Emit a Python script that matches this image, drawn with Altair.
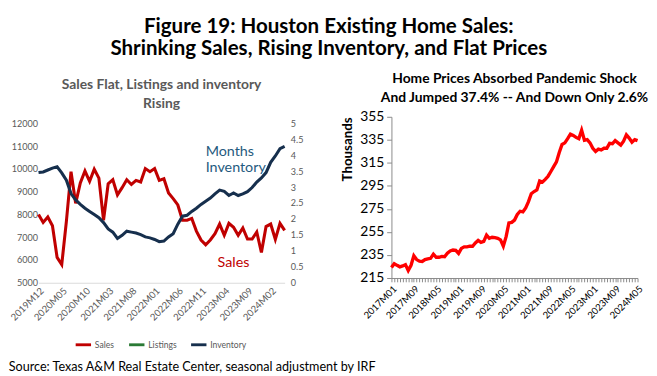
import altair as alt
import pandas as pd


def month_labels(y0, m0, n):
    out = []
    y, m = y0, m0
    for _ in range(n):
        out.append(f"{y}M{m:02d}")
        m += 1
        if m > 12:
            m = 1
            y += 1
    return out


# ---------------- data ----------------
left_months = month_labels(2019, 12, 54)
left_ticks = ["2019M12", "2020M05", "2020M10", "2021M03", "2021M08", "2022M01",
              "2022M06", "2022M11", "2023M04", "2023M09", "2024M02"]

sales = [8000, 7650, 7890, 7510, 6115, 5800, 7700, 9880, 8490, 9390,
         9910, 9460, 9990, 9600, 7750, 9350, 9530, 8860, 9180, 9530,
         9320, 9500, 9430, 10020, 9880, 10020, 9500, 9570, 8950, 8700,
         8420, 7750, 7750, 7830, 7270, 6880, 6670, 6880, 7160, 7580,
         7090, 7610, 7440, 7090, 7410, 6920, 6920, 7230, 6330, 7470,
         7580, 6910, 7610, 7300]

inventory = [3.46, 3.48, 3.54, 3.60, 3.64, 3.45, 3.22, 2.80, 2.60, 2.46,
             2.34, 2.24, 2.14, 2.04, 1.89, 1.69, 1.59, 1.39, 1.49, 1.62,
             1.59, 1.56, 1.51, 1.44, 1.41, 1.36, 1.29, 1.31, 1.44, 1.54,
             1.84, 2.09, 2.12, 2.24, 2.34, 2.46, 2.56, 2.66, 2.79, 2.91,
             2.87, 2.74, 2.82, 2.74, 2.79, 2.86, 2.99, 3.16, 3.29, 3.46,
             3.78, 3.98, 4.21, 4.28]

right_months = month_labels(2017, 1, 89)
right_ticks = ["2017M01", "2017M09", "2018M05", "2019M01", "2019M09", "2020M05",
               "2021M01", "2021M09", "2022M05", "2023M01", "2023M09", "2024M05"]

prices = [224.1, 227.4, 226.0, 224.7, 225.5, 226.6, 221.5, 226.0, 234.3, 231.0,
          229.6, 229.4, 231.0, 231.6, 232.1, 235.7, 233.0, 233.0, 233.8, 233.5,
          236.5, 238.5, 239.3, 239.0, 236.3, 240.7, 242.1, 242.1, 242.6, 242.6,
          245.4, 247.6, 245.9, 246.8, 252.3, 249.5, 250.4, 250.1, 249.5, 248.1,
          242.6, 250.9, 262.8, 263.3, 265.3, 270.2, 273.0, 272.5, 275.8, 281.3,
          288.2, 290.1, 291.5, 299.3, 298.4, 300.6, 303.4, 307.5, 311.7, 315.8,
          324.0, 331.0, 332.4, 336.0, 339.9, 338.8, 337.1, 336.0, 343.4, 334.6,
          335.2, 332.4, 327.7, 324.9, 326.9, 326.3, 327.7, 327.7, 331.9, 331.6,
          334.3, 332.4, 330.5, 333.8, 339.3, 336.5, 332.9, 335.2, 334.3]

series_names = ["Sales", "Listings", "Inventory"]
series_colors = ["#C00000", "#2A7A35", "#162F4D"]

inv_note = ["Months", "Inventory"]
inv_note_month = ["2022M12", "2022M12"]
inv_note_value = [4.13, 3.63]
sales_note = ["Sales"]
sales_note_month = ["2023M06"]
sales_note_value = [5890]

FONT = "Lato"

# ---------------- left chart ----------------
df_sales = pd.DataFrame({"month": left_months, "value": sales, "series": "Sales"})
df_inv = pd.DataFrame({"month": left_months, "value": inventory, "series": "Inventory"})
df_inv_note = pd.DataFrame({"month": inv_note_month, "value": inv_note_value, "text": inv_note})
df_sales_note = pd.DataFrame({"month": sales_note_month, "value": sales_note_value, "text": sales_note})

x_left = alt.X(
    "month:O",
    scale=alt.Scale(type="point", padding=0, domain=left_months),
    axis=alt.Axis(values=left_ticks, labelAngle=-45, title=None, ticks=False,
                  domainColor="#D9D9D9", labelColor="#595959", labelFontSize=10,
                  labelPadding=3, labelOverlap=False),
)
y_sales = alt.Y("value:Q", scale=alt.Scale(domain=[5000, 12293], nice=False),
                axis=alt.Axis(values=list(range(5000, 12001, 1000)), title=None, domain=False,
                              ticks=False, grid=False, labelColor="#595959", labelFontSize=9.5,
                              format="d", labelPadding=1))
y_inv = alt.Y("value:Q", scale=alt.Scale(domain=[0, 5.21], nice=False),
              axis=alt.Axis(orient="right", values=[i / 2 for i in range(11)], title=None,
                            domain=False, ticks=False, grid=False, labelColor="#595959",
                            labelFontSize=9.5, format="~g", labelPadding=6))
color_enc = alt.Color(
    "series:N",
    scale=alt.Scale(domain=series_names, range=series_colors),
    legend=alt.Legend(orient="none", legendX=37, legendY=229, direction="horizontal",
                      title=None, symbolType="stroke", symbolStrokeWidth=3,
                      symbolSize=260, labelFontSize=9, labelColor="#595959",
                      columnPadding=8, labelOffset=2),
)

sales_line = alt.Chart(df_sales).mark_line(strokeWidth=3.2).encode(
    x=x_left, y=y_sales, color=color_enc,
)
sales_txt = alt.Chart(df_sales_note).mark_text(fontSize=15, color="#C00000", align="center").encode(
    x=x_left, y=y_sales, text="text:N",
)
inv_line = alt.Chart(df_inv).mark_line(strokeWidth=3.2).encode(
    x=x_left, y=y_inv, color=color_enc,
)
inv_txt = alt.Chart(df_inv_note).mark_text(fontSize=15, color="#1F5A7E", align="left").encode(
    x=x_left, y=y_inv, text="text:N",
)

left = alt.layer(
    alt.layer(sales_line, sales_txt),
    alt.layer(inv_line, inv_txt),
).resolve_scale(y="independent").properties(
    width=258, height=174,
    title=alt.TitleParams(["Sales Flat, Listings and inventory", "Rising"], fontSize=14.5,
                          color="#595959", fontWeight="bold", anchor="middle", offset=6,
                          lineHeight=20),
)

# ---------------- right chart ----------------
df_p = pd.DataFrame({"month": right_months, "price": prices})
tick_list = ",".join(f"'{t}'" for t in right_ticks)

right = alt.Chart(df_p).mark_line(color="#FF0000", strokeWidth=3.5).encode(
    x=alt.X("month:O",
            scale=alt.Scale(type="point", padding=0, domain=right_months),
            axis=alt.Axis(values=right_months, labelAngle=-45, title=None,
                          labelExpr=f"indexof([{tick_list}], datum.value) >= 0 ? datum.value : ''",
                          labelOverlap=False, tickSize=4, tickColor="#868686",
                          domainColor="#868686", labelColor="#000000", labelFontSize=10,
                          labelPadding=2)),
    y=alt.Y("price:Q", scale=alt.Scale(domain=[215, 355], nice=False),
            axis=alt.Axis(values=list(range(215, 356, 20)), title="Thousands",
                          titleFontSize=14, titleFontWeight="bold", titleColor="#000000",
                          titleAnchor="end",
                          grid=False, tickSize=5, tickColor="#868686", domainColor="#868686",
                          labelColor="#000000", labelFontSize=14.5, labelPadding=3,
                          titlePadding=6)),
).properties(
    width=258, height=169,
    title=alt.TitleParams(["Home Prices Absorbed Pandemic Shock",
                           "And Jumped 37.4% -- And Down Only 2.6%"], fontSize=14.5,
                          color="#000000", fontWeight="bold", anchor="middle", offset=3.5,
                          lineHeight=20),
)

inner = alt.hconcat(left, right, spacing=38).properties(
    title=alt.TitleParams(["Figure 19: Houston Existing Home Sales:",
                           "Shrinking Sales, Rising Inventory, and Flat Prices"],
                          fontSize=21.5, fontWeight="bold", color="#000000", anchor="middle",
                          lineHeight=23, offset=13.5),
)

chart = alt.vconcat(inner).properties(
    title=alt.TitleParams("Source: Texas A&M Real Estate Center, seasonal adjustment by IRF",
                          orient="bottom", anchor="start", fontSize=13.2, fontWeight="normal",
                          color="#000000", offset=12),
    padding={"left": 0, "top": 0, "right": 0, "bottom": 0},
).configure(font=FONT).configure_view(stroke=None).configure_title(font=FONT)

chart.save("out.html", embed_options={"renderer": "svg", "actions": False})
